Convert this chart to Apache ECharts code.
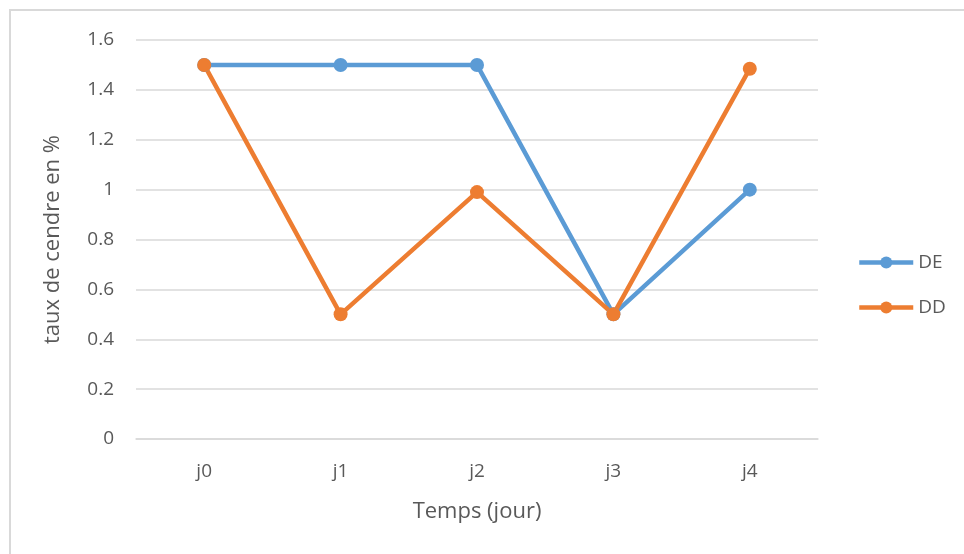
<!DOCTYPE html>
<html>
<head>
    <meta charset="utf-8">
    <title>Taux de cendre</title>
    <script src="https://cdn.jsdelivr.net/npm/echarts@6/dist/echarts.min.js"></script>
    <style>
        body { margin: 0; background: #fff; }
        #chart { width: 964px; height: 554px; }
    </style>
</head>
<body>
    <div id="chart"></div>
    <script>
        // data
        var jours = ['j0', 'j1', 'j2', 'j3', 'j4'];
        var valDE = [1.5, 1.5, 1.5, 0.5, 1.0];
        var valDD = [1.5, 0.5, 0.99, 0.5, 1.485];

        var txt = '#595959';
        var fontName = 'Open Sans';

        var chart = echarts.init(document.getElementById('chart'));

        var option = {
            animation: false,
            textStyle: { fontFamily: fontName },
            graphic: [{
                type: 'rect',
                shape: { x: 10, y: 10, width: 960, height: 560 },
                style: { fill: 'none', stroke: '#d9d9d9', lineWidth: 2 },
                silent: true
            }],
            grid: { left: 136, right: 146, top: 40, bottom: 115 },
            legend: {
                orient: 'vertical',
                left: 852,
                top: 248,
                itemWidth: 54,
                itemHeight: 15,
                itemGap: 26,
                lineStyle: { width: 4.5 },
                textStyle: { color: txt, fontSize: 19, fontFamily: fontName },
                data: ['DE', 'DD']
            },
            xAxis: {
                type: 'category',
                data: jours,
                name: 'Temps (jour)',
                nameLocation: 'middle',
                nameGap: 62,
                nameTextStyle: { color: txt, fontSize: 22, fontFamily: fontName },
                axisLine: { lineStyle: { color: '#d9d9d9', width: 1.5 } },
                axisTick: { show: false },
                axisLabel: { color: txt, fontSize: 19, margin: 23 }
            },
            yAxis: {
                type: 'value',
                min: 0,
                max: 1.6,
                interval: 0.2,
                name: 'taux de cendre en %',
                nameLocation: 'middle',
                nameGap: 72,
                nameTextStyle: { color: txt, fontSize: 22, fontFamily: fontName },
                axisLabel: {
                    color: txt,
                    fontSize: 19,
                    margin: 22,
                    formatter: function (v) { return String(Math.round(v * 10) / 10); }
                },
                splitLine: { lineStyle: { color: '#d9d9d9', width: 1.5 } }
            },
            series: [
                {
                    name: 'DE',
                    type: 'line',
                    data: valDE,
                    symbol: 'circle',
                    symbolSize: 14,
                    color: '#5b9bd5',
                    lineStyle: { width: 4.5, color: '#5b9bd5' },
                    itemStyle: { color: '#5b9bd5' }
                },
                {
                    name: 'DD',
                    type: 'line',
                    data: valDD,
                    symbol: 'circle',
                    symbolSize: 14,
                    color: '#ed7d31',
                    lineStyle: { width: 4.5, color: '#ed7d31' },
                    itemStyle: { color: '#ed7d31' }
                }
            ]
        };

        chart.setOption(option);
    </script>
</body>
</html>
